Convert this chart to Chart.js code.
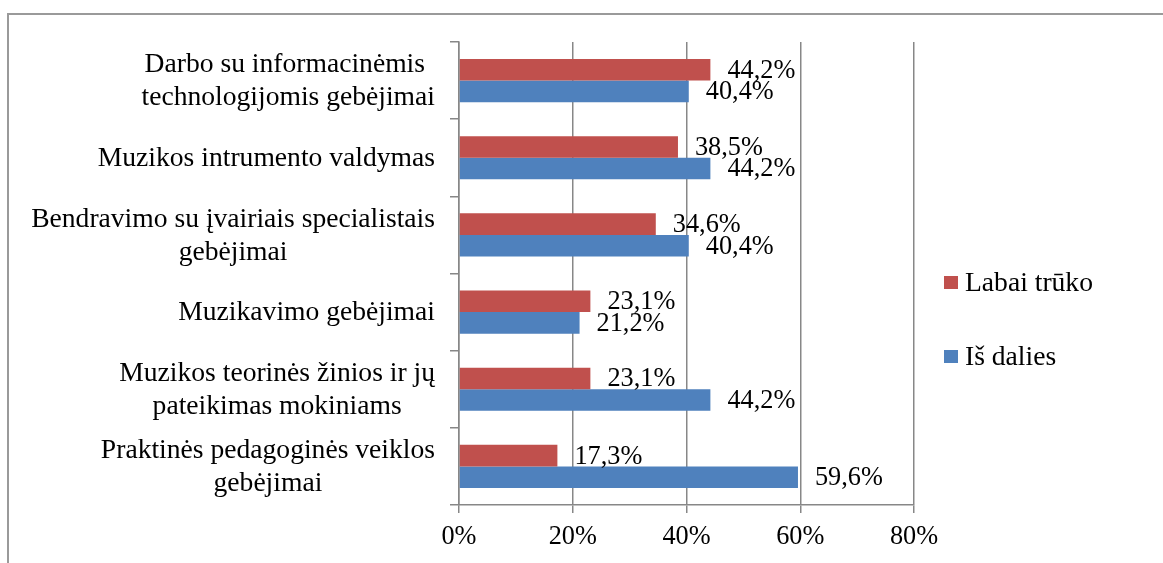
<!DOCTYPE html>
<html><head><meta charset="utf-8">
<script src="https://cdn.jsdelivr.net/npm/chart.js@4.4.0/dist/chart.umd.min.js"></script>
<style>
html,body{margin:0;padding:0;background:#fff;overflow:hidden}
#frame{position:absolute;left:7px;top:13px;width:1200px;height:600px;border-left:2px solid #9a9a9a;border-top:2px solid #9a9a9a}
#wrap{position:absolute;left:0;top:0;width:1163px;height:563px}
</style></head><body>
<div id="frame"></div>
<div id="wrap"><canvas id="c" width="1163" height="563"></canvas></div>
<script>
const categories = [
  ["Darbo su informacinėmis ", "technologijomis gebėjimai"],
  ["Muzikos intrumento valdymas"],
  ["Bendravimo su įvairiais specialistais", "gebėjimai"],
  ["Muzikavimo gebėjimai"],
  ["Muzikos teorinės žinios ir jų", "pateikimas mokiniams"],
  ["Praktinės pedagoginės veiklos", "gebėjimai"]
];
const seriesNames = ["Labai trūko", "Iš dalies"];
const labaiTruko = [44.2, 38.5, 34.6, 23.1, 23.1, 17.3];
const isDalies = [40.4, 44.2, 40.4, 21.2, 44.2, 59.6];
const xTickValues = [0, 20, 40, 60, 80];

const FONT = '"Liberation Serif", "Times New Roman", serif';
const CAT_FS = 27.6;
const VAL_FS = 26.3;
const GRID = '#878787';
const fmt = v => v.toFixed(1).replace('.', ',') + '%';

const catLabelPlugin = {
  id: 'catLabels',
  afterDraw(chart) {
    const ctx = chart.ctx, ys = chart.scales.y;
    ctx.save();
    ctx.font = CAT_FS + 'px ' + FONT;
    ctx.fillStyle = '#000';
    ctx.textAlign = 'center';
    ctx.textBaseline = 'middle';
    const rightX = 435, lineH = 33;
    categories.forEach((lines, i) => {
      const w = Math.max(...lines.map(l => ctx.measureText(l).width));
      const cx = rightX - w / 2;
      const cy = ys.getPixelForValue(i);
      lines.forEach((l, j) => {
        ctx.fillText(l, cx, cy + (j - (lines.length - 1) / 2) * lineH + 1);
      });
    });
    ctx.restore();
  }
};

const valueLabelPlugin = {
  id: 'valueLabels',
  afterDatasetsDraw(chart) {
    const ctx = chart.ctx;
    ctx.save();
    ctx.font = VAL_FS + 'px ' + FONT;
    ctx.fillStyle = '#000';
    ctx.textAlign = 'left';
    ctx.textBaseline = 'middle';
    chart.data.datasets.forEach((ds, di) => {
      chart.getDatasetMeta(di).data.forEach((bar, i) => {
        ctx.fillText(fmt(ds.data[i]), bar.x + 17, bar.y + 1);
      });
    });
    ctx.restore();
  }
};

const legendPlugin = {
  id: 'customLegend',
  afterDraw(chart) {
    const ctx = chart.ctx;
    ctx.save();
    ctx.font = CAT_FS + 'px ' + FONT;
    ctx.textAlign = 'left';
    ctx.textBaseline = 'middle';
    const ys = [283, 357];
    chart.data.datasets.forEach((ds, di) => {
      ctx.fillStyle = ds.backgroundColor;
      ctx.fillRect(944, ys[di] - 7, 14, 13);
      ctx.fillStyle = '#000';
      ctx.fillText(ds.label, 965, ys[di] + 1);
    });
    ctx.restore();
  }
};

new Chart(document.getElementById('c'), {
  type: 'bar',
  data: {
    labels: categories,
    datasets: [
      { label: seriesNames[0], data: labaiTruko, backgroundColor: '#C0504D', borderWidth: 0 },
      { label: seriesNames[1], data: isDalies, backgroundColor: '#4F81BD', borderWidth: 0 }
    ]
  },
  options: {
    indexAxis: 'y',
    responsive: false,
    animation: false,
    events: [],
    layout: { padding: { top: 42, left: 0, right: 249, bottom: 0 } },
    datasets: { bar: { barPercentage: 1, categoryPercentage: 0.56 } },
    plugins: { legend: { display: false }, tooltip: { enabled: false } },
    scales: {
      x: {
        min: 0, max: 80,
        afterBuildTicks(scale) { scale.ticks = xTickValues.map(v => ({ value: v })); },
        afterFit(scale) { scale.height = 58; },
        ticks: {
          callback: v => v + '%',
          color: '#000',
          font: { family: FONT, size: VAL_FS },
          padding: 8,
          maxRotation: 0
        },
        grid: { color: GRID, lineWidth: 1.5, tickLength: 8, drawTicks: true },
        border: { color: GRID, width: 1.5 }
      },
      y: {
        afterFit(scale) { scale.width = 459; },
        ticks: { display: false },
        grid: { offset: true, drawOnChartArea: false, drawTicks: true, tickLength: 9, color: GRID, lineWidth: 1.5 },
        border: { color: GRID, width: 1.5 }
      }
    }
  },
  plugins: [catLabelPlugin, valueLabelPlugin, legendPlugin]
});
</script>
</body></html>
